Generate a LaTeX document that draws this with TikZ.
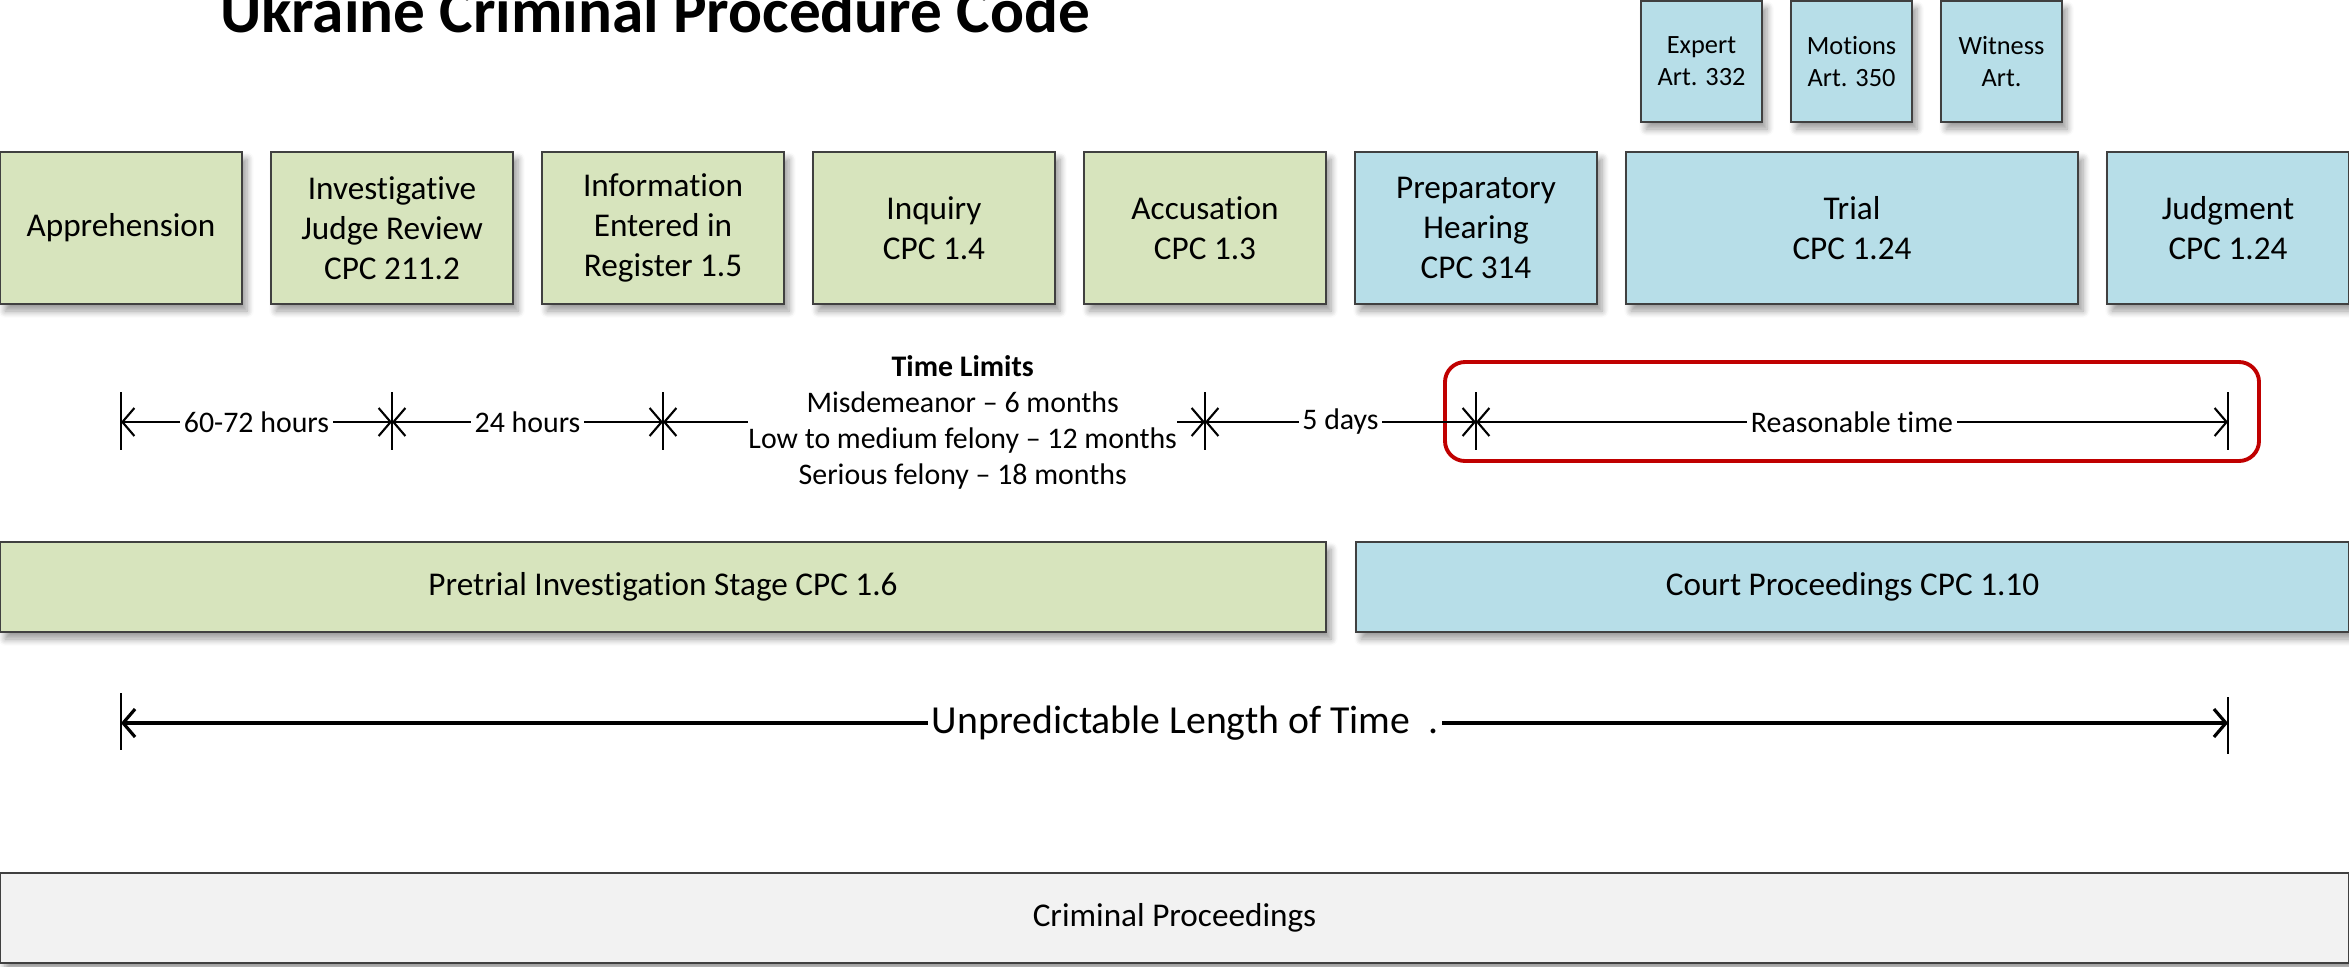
\documentclass[tikz,border=0pt]{standalone}
\usepackage{fontspec}
\setmainfont{Carlito}[Ligatures={TeX,NoCommon}]
\usetikzlibrary{arrows.meta,shadows.blur}

\definecolor{stagegreen}{HTML}{D7E4BD}
\definecolor{stageblue}{HTML}{B7DEE8}
\definecolor{boxline}{HTML}{404040}
\definecolor{procgray}{HTML}{F2F2F2}
\definecolor{limitred}{HTML}{C00000}

\begin{document}
\begin{tikzpicture}
\tikzstyle{stage}=[rectangle, draw=boxline, line width=0.45pt, align=center, minimum width=2.42cm, minimum height=1.52cm, inner sep=0pt, font=\fontsize{9.45}{11.4}\selectfont, blur shadow={shadow xshift=0.5mm, shadow yshift=-0.7mm, shadow blur steps=6, shadow opacity=40}]
\tikzstyle{pre stage}=[stage, fill=stagegreen]
\tikzstyle{court stage}=[stage, fill=stageblue]
\tikzstyle{trial part}=[court stage, minimum width=1.21cm, minimum height=1.21cm, font=\fontsize{7.5}{9.1}\selectfont]
\tikzstyle{phase bar}=[stage, minimum height=0.9cm]
\tikzstyle{tick bar}=[draw=black, line width=0.4pt]
\tikzstyle{dim line}=[draw=black, line width=0.6pt, {Straight Barb[length=1.2mm,width=2.8mm]}-{Straight Barb[length=1.2mm,width=2.8mm]}]
\tikzstyle{dim label}=[fill=white, inner sep=1pt, font=\fontsize{8.5}{10.25}\selectfont]
\tikzstyle{reasonable box}=[draw=limitred, line width=1.1pt, rounded corners=0.2cm, minimum width=8.14cm, minimum height=0.99cm]

\useasboundingbox (0,0) rectangle (23.49,-9.66);

% Title
\node[anchor=base, font=\bfseries\fontsize{18}{21.6}\selectfont] (title) at (6.55,-0.32) {Ukraine Criminal Procedure Code};

% Draw the pretrial stages
\foreach \name/\txt [count=\i from 0] in {appr/Apprehension, judge/{Investigative\\Judge Review\\CPC 211.2}, reg/{Information\\Entered in\\Register 1.5}, inq/{Inquiry\\CPC 1.4}, acc/{Accusation\\CPC 1.3}}
    \node[pre stage] (\name) at (1.21 + 2.71*\i, -2.28) {\txt};

% Draw the court stages
\node[court stage] (prep) at (14.76,-2.28) {Preparatory\\Hearing\\CPC 314};
\node[court stage, minimum width=4.52cm] (trial) at (18.52,-2.28) {Trial\\CPC 1.24};
\node[court stage] (judg) at (22.28,-2.28) {Judgment\\CPC 1.24};

\foreach \name/\txt [count=\i from -1] in {expert/{Expert\\Art. 332}, motion/{Motions\\Art. 350}, witness/{Witness\\Art.}}
    \node[trial part] (\name) at (18.515 + 1.5*\i, -0.615) {\txt};

% Phase bars
\node[phase bar, fill=stagegreen, minimum width=13.26cm] (pretrial) at (6.63,-5.87) {Pretrial Investigation Stage CPC 1.6};
\node[phase bar, fill=stageblue, minimum width=9.93cm] (court) at (18.525,-5.87) {Court Proceedings CPC 1.10};
\node[phase bar, fill=procgray, minimum width=23.49cm] (crim) at (11.745,-9.18) {Criminal Proceedings};

% Time marks under the stage boxes
\foreach \name/\stg in {t0/appr, t1/judge, t2/reg, t3/acc, t4/prep, t5/judg}
    \coordinate (\name) at (\stg |- 0,-4.22);

\node[reasonable box] (rbox) at (18.52,-4.115) {};

\foreach \k in {0,...,5}
    \draw[tick bar] ([yshift=0.3cm]t\k) -- ([yshift=-0.28cm]t\k);

\draw[dim line] (t0) -- node[dim label] {60-72 hours} (t1);
\draw[dim line] (t1) -- node[dim label] {24 hours} (t2);
\draw[dim line] (t2) -- node[dim label, pos=0.553, align=center, inner sep=0pt] {\textbf{Time Limits}\\Misdemeanor -- 6 months\\Low to medium felony -- 12 months\\Serious felony -- 18 months} (t3);
\draw[dim line] (t3) -- node[dim label] {5 days} (t4);
\draw[dim line] (t4) -- node[dim label] {Reasonable time} (t5);

% Whole length line
\coordinate (u0) at (appr |- 0,-7.23);
\coordinate (u1) at (judg |- 0,-7.23);
\draw[tick bar, line width=0.3pt] ([yshift=0.3cm]u0) -- ([yshift=-0.27cm]u0);
\draw[tick bar, line width=0.3pt] ([yshift=0.26cm]u1) -- ([yshift=-0.31cm]u1);
\draw[dim line, line width=0.9pt] (u0) -- node[dim label, pos=0.505, font=\fontsize{11.3}{13.6}\selectfont] {Unpredictable Length of Time\ \ .} (u1);

\end{tikzpicture}
\end{document}
